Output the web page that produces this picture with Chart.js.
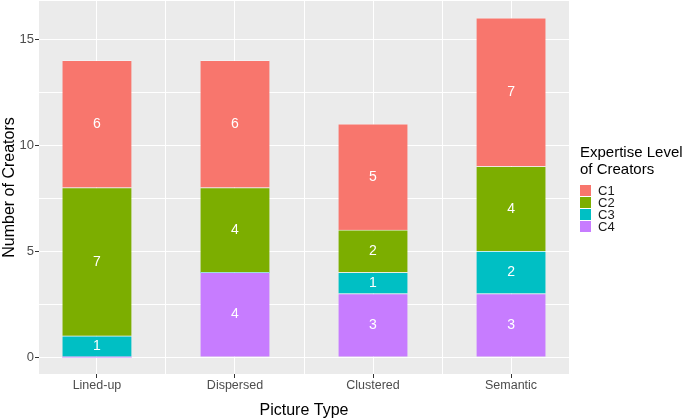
<!DOCTYPE html>
<html>
<head>
<meta charset="utf-8">
<script src="https://cdn.jsdelivr.net/npm/chart.js@4.4.1/dist/chart.umd.min.js"></script>
<style>
  html, body { margin: 0; padding: 0; background: #fff; }
  #wrap { width: 685px; height: 420px; }
</style>
</head>
<body>
<div id="wrap"><canvas id="creators"></canvas></div>
<script>
  // categories and counts per expertise level
  const categories = ['Lined-up', 'Dispersed', 'Clustered', 'Semantic'];
  const c1 = [6, 6, 5, 7];
  const c2 = [7, 4, 2, 4];
  const c3 = [1, 0, 1, 2];
  const c4 = [0, 4, 3, 3];
  const yTicks = [0, 2.5, 5, 7.5, 10, 12.5, 15];
  const xTicks = [1, 1.5, 2, 2.5, 3, 3.5, 4];

  Chart.defaults.font.family = '"Liberation Sans", Arial, sans-serif';

  const toPoints = arr => arr.map((v, i) => ({ x: i + 1, y: v }));

  // grey ggplot-style panel
  const panelBg = {
    id: 'panelBg',
    beforeDraw(chart) {
      const { ctx, chartArea: a } = chart;
      ctx.save();
      ctx.fillStyle = '#EBEBEB';
      ctx.fillRect(a.left, a.top, a.right - a.left, a.bottom - a.top);
      ctx.restore();
    }
  };

  // white counts in the middle of each segment
  const segmentLabels = {
    id: 'segmentLabels',
    afterDatasetsDraw(chart) {
      const ctx = chart.ctx;
      ctx.save();
      ctx.fillStyle = '#fff';
      ctx.font = '14px "Liberation Sans", Arial, sans-serif';
      ctx.textAlign = 'center';
      ctx.textBaseline = 'middle';
      chart.data.datasets.forEach((ds, di) => {
        chart.getDatasetMeta(di).data.forEach((el, i) => {
          const v = ds.data[i].y;
          if (!v) return;
          const p = el.getProps(['x', 'y', 'base'], true);
          ctx.fillText(v, p.x, (p.y + p.base) / 2);
        });
      });
      ctx.restore();
    }
  };

  // legend with a two-line title, like ggplot's
  const legendBox = {
    id: 'legendBox',
    afterDraw(chart) {
      const ctx = chart.ctx;
      const x = chart.chartArea.right + 11;
      ctx.save();
      ctx.textBaseline = 'middle';
      ctx.fillStyle = '#000';
      ctx.font = '15px "Liberation Sans", Arial, sans-serif';
      ctx.fillText('Expertise Level', x, 153);
      ctx.fillText('of Creators', x, 170);
      ctx.font = '13px "Liberation Sans", Arial, sans-serif';
      chart.data.datasets.slice().reverse().forEach((ds, i) => {
        const top = 185 + i * 12;
        ctx.fillStyle = ds.backgroundColor;
        ctx.fillRect(x, top, 11, 11);
        ctx.fillStyle = '#1A1A1A';
        ctx.fillText(ds.label, x + 18, top + 6);
      });
      ctx.restore();
    }
  };

  const isMajorX = c => c.tick && Number.isInteger(c.tick.value);
  const isMajorY = c => c.tick && c.tick.value % 5 === 0;

  // bar slot = smallest tick gap (half a category), so full slot = 0.5 category
  const barStyle = {
    borderWidth: { top: 1, left: 0, right: 0, bottom: 0 },
    borderColor: 'rgba(255,255,255,0.35)',
    borderSkipped: false,
    barPercentage: 1,
    categoryPercentage: 1
  };

  new Chart(document.getElementById('creators'), {
    type: 'bar',
    data: {
      datasets: [
        { label: 'C4', data: toPoints(c4), backgroundColor: '#C77CFF', ...barStyle },
        { label: 'C3', data: toPoints(c3), backgroundColor: '#00BFC4', ...barStyle },
        { label: 'C2', data: toPoints(c2), backgroundColor: '#7CAE00', ...barStyle },
        { label: 'C1', data: toPoints(c1), backgroundColor: '#F8766D', ...barStyle }
      ]
    },
    options: {
      responsive: true,
      maintainAspectRatio: false,
      animation: false,
      layout: { padding: { left: 0, right: 116, top: 1, bottom: 0 } },
      plugins: {
        legend: { display: false },
        tooltip: { enabled: false }
      },
      scales: {
        x: {
          type: 'linear',
          stacked: true,
          offset: false,
          min: 0.58,
          max: 4.42,
          afterBuildTicks: s => { s.ticks = xTicks.map(v => ({ value: v })); },
          afterFit: s => { s.height = 46; s.paddingLeft = 0; s.paddingRight = 0; },
          border: { display: false },
          grid: {
            offset: false,
            color: '#fff',
            lineWidth: 1,
            tickLength: 4,
            tickColor: c => isMajorX(c) ? '#333' : 'rgba(0,0,0,0)'
          },
          ticks: {
            autoSkip: false,
            maxRotation: 0,
            padding: 0,
            color: '#4D4D4D',
            font: { size: 12.5 },
            callback: v => Number.isInteger(v) ? categories[v - 1] : ''
          },
          title: {
            display: true,
            text: 'Picture Type',
            color: '#000',
            font: { size: 16 },
            padding: 0
          }
        },
        y: {
          stacked: true,
          min: -0.8,
          max: 16.8,
          afterBuildTicks: s => { s.ticks = yTicks.map(v => ({ value: v })); },
          afterFit: s => { s.width = 39; s.paddingTop = 0; s.paddingBottom = 0; },
          border: { display: false },
          grid: {
            color: '#fff',
            lineWidth: 1,
            tickLength: 4,
            tickColor: c => isMajorY(c) ? '#333' : 'rgba(0,0,0,0)'
          },
          ticks: {
            padding: 1,
            color: '#4D4D4D',
            font: { size: 13 },
            callback: v => v % 5 === 0 ? v : ''
          },
          title: {
            display: true,
            text: 'Number of Creators',
            color: '#000',
            font: { size: 16 },
            padding: 0
          }
        }
      }
    },
    plugins: [panelBg, segmentLabels, legendBox]
  });
</script>
</body>
</html>
